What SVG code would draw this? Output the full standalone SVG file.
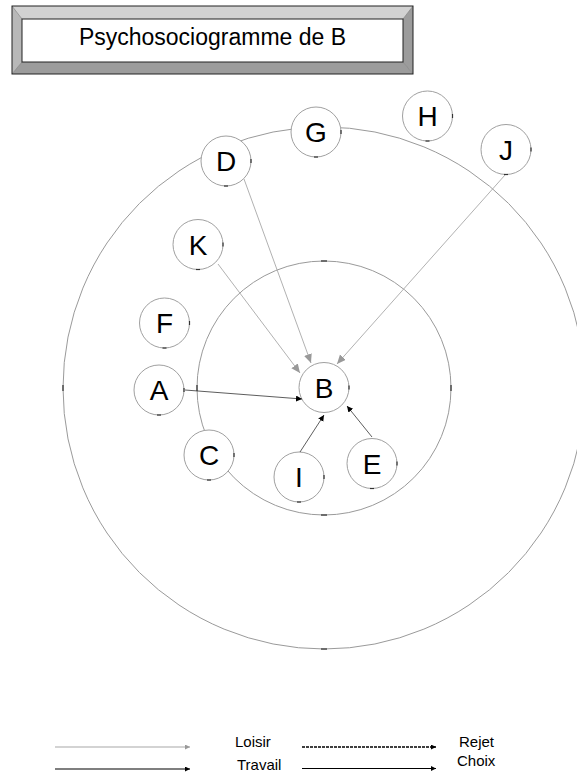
<svg xmlns="http://www.w3.org/2000/svg" width="577" height="772" viewBox="0 0 577 772">
<style>
.ring{fill:none;stroke:#9a9a9a;stroke-width:1}
.node circle{fill:#fff;stroke:#a0a0a0;stroke-width:1}
.node text{font-family:"Liberation Sans",Arial,sans-serif;font-size:28px;fill:#000;text-anchor:middle}
.tick{stroke:#333;stroke-width:1.2}
.rtick{stroke:#555;stroke-width:1.6}
.gray{stroke:#a8a8a8;stroke-width:0.9;fill:none}
.blk{stroke:#333;stroke-width:0.8;fill:none}
.leg{font-family:"Liberation Sans",Arial,sans-serif;font-size:15px;fill:#000}
</style>
<defs>
<marker id="ag" markerUnits="userSpaceOnUse" markerWidth="10" markerHeight="10" refX="9" refY="4" orient="auto"><path d="M0,0 L9,4 L0,8 z" fill="#999"/></marker>
<marker id="ab" markerUnits="userSpaceOnUse" markerWidth="8" markerHeight="8" refX="6" refY="3" orient="auto"><path d="M0,0 L6,3 L0,6 z" fill="#000"/></marker>
<marker id="lg" markerUnits="userSpaceOnUse" markerWidth="8" markerHeight="8" refX="5" refY="2.5" orient="auto"><path d="M0,0 L5,2.5 L0,5 z" fill="#999"/></marker>
<marker id="lb" markerUnits="userSpaceOnUse" markerWidth="8" markerHeight="8" refX="5" refY="2.5" orient="auto"><path d="M0,0 L5,2.5 L0,5 z" fill="#000"/></marker>
</defs>
<rect width="577" height="772" fill="#fff"/>

<g id="title">
<polygon points="12,6 413,6 403,19 22,19" fill="#d2d2d2"/>
<polygon points="12,6 22,19 22,62 12,74" fill="#b8b8b8"/>
<polygon points="413,6 413,74 403,62 403,19" fill="#9c9c9c"/>
<polygon points="12,74 22,62 403,62 413,74" fill="#9c9c9c"/>
<line x1="12" y1="6" x2="22" y2="19" stroke="#777" stroke-width="0.6"/>
<line x1="413" y1="6" x2="403" y2="19" stroke="#777" stroke-width="0.6"/>
<line x1="12" y1="74" x2="22" y2="62" stroke="#777" stroke-width="0.6"/>
<line x1="413" y1="74" x2="403" y2="62" stroke="#777" stroke-width="0.6"/>
<rect x="12" y="6" width="401" height="68" fill="none" stroke="#222" stroke-width="1"/>
<rect x="22" y="19" width="381" height="43" fill="#fff" stroke="#222" stroke-width="1"/>
<text x="212.5" y="45" font-family="Liberation Sans,Arial,sans-serif" font-size="23" text-anchor="middle">Psychosociogramme de B</text>
</g>

<g id="rings">
<circle class="ring" cx="324" cy="388" r="261"/>
<circle class="ring" cx="324" cy="388" r="127"/>
<line class="rtick" x1="321" y1="261" x2="327" y2="261"/>
<line class="rtick" x1="451" y1="385" x2="451" y2="391"/>
<line class="rtick" x1="321" y1="515" x2="327" y2="515"/>
<line class="rtick" x1="197" y1="385" x2="197" y2="391"/>
<line class="rtick" x1="63" y1="385" x2="63" y2="391"/>
<line class="rtick" x1="321" y1="649" x2="327" y2="649"/>
</g>

<g id="node-G" class="node"><circle cx="316" cy="132" r="25"/><text x="316" y="142">G</text><line class="tick" x1="341" y1="130" x2="341" y2="134"/><line class="tick" x1="314" y1="157" x2="318" y2="157"/></g>
<g id="node-D" class="node"><circle cx="226" cy="161" r="25"/><text x="226" y="171">D</text><line class="tick" x1="251" y1="159" x2="251" y2="163"/><line class="tick" x1="224" y1="186" x2="228" y2="186"/></g>
<g id="node-H" class="node"><circle cx="427.5" cy="116" r="25"/><text x="427.5" y="126">H</text><line class="tick" x1="452.5" y1="114" x2="452.5" y2="118"/><line class="tick" x1="425.5" y1="141" x2="429.5" y2="141"/></g>
<g id="node-J" class="node"><circle cx="506" cy="149.5" r="25"/><text x="506" y="159.5">J</text><line class="tick" x1="531" y1="147.5" x2="531" y2="151.5"/><line class="tick" x1="504" y1="174.5" x2="508" y2="174.5"/></g>
<g id="node-K" class="node"><circle cx="198" cy="244.5" r="25"/><text x="198" y="254.5">K</text><line class="tick" x1="223" y1="242.5" x2="223" y2="246.5"/><line class="tick" x1="196" y1="269.5" x2="200" y2="269.5"/></g>
<g id="node-F" class="node"><circle cx="164.5" cy="323" r="25"/><text x="164.5" y="333">F</text><line class="tick" x1="189.5" y1="321" x2="189.5" y2="325"/><line class="tick" x1="162.5" y1="348" x2="166.5" y2="348"/></g>
<g id="node-A" class="node"><circle cx="159" cy="390" r="25"/><text x="159" y="400">A</text><line class="tick" x1="184" y1="388" x2="184" y2="392"/><line class="tick" x1="157" y1="415" x2="161" y2="415"/></g>
<g id="node-B" class="node"><circle cx="324" cy="387.5" r="25"/><text x="324" y="397.5">B</text><line class="tick" x1="349" y1="385.5" x2="349" y2="389.5"/></g>
<g id="node-C" class="node"><circle cx="209" cy="455" r="25"/><text x="209" y="465">C</text><line class="tick" x1="234" y1="453" x2="234" y2="457"/><line class="tick" x1="207" y1="480" x2="211" y2="480"/></g>
<g id="node-I" class="node"><circle cx="299" cy="477" r="25"/><text x="299" y="487">I</text><line class="tick" x1="324" y1="475" x2="324" y2="479"/><line class="tick" x1="297" y1="502" x2="301" y2="502"/></g>
<g id="node-E" class="node"><circle cx="372" cy="463.5" r="25"/><text x="372" y="473.5">E</text><line class="tick" x1="397" y1="461.5" x2="397" y2="465.5"/><line class="tick" x1="370" y1="488.5" x2="374" y2="488.5"/></g>

<g id="connectors">
<line class="gray" x1="244" y1="179" x2="311" y2="363" marker-end="url(#ag)"/>
<line class="gray" x1="218" y1="264" x2="300" y2="373" marker-end="url(#ag)"/>
<line class="gray" x1="505" y1="175" x2="337" y2="364" marker-end="url(#ag)"/>
<line class="blk" x1="185" y1="390" x2="302" y2="399" marker-end="url(#ab)"/>
<line class="blk" x1="300" y1="452" x2="324" y2="415" marker-end="url(#ab)"/>
<line class="blk" x1="372" y1="437" x2="347" y2="406" marker-end="url(#ab)"/>
</g>

<g id="legend">
<line x1="55" y1="747" x2="190" y2="747" stroke="#a8a8a8" stroke-width="1.2" marker-end="url(#lg)"/>
<line x1="55" y1="769" x2="190" y2="769" stroke="#000" stroke-width="1.2" marker-end="url(#lb)"/>
<line x1="302" y1="747" x2="436" y2="747" stroke="#000" stroke-width="1.4" stroke-dasharray="3,1" marker-end="url(#lb)"/>
<line x1="302" y1="768.5" x2="436" y2="768.5" stroke="#000" stroke-width="1.2" marker-end="url(#lb)"/>
<text class="leg" x="235" y="747">Loisir</text>
<text class="leg" x="237" y="770">Travail</text>
<text class="leg" x="459" y="747">Rejet</text>
<text class="leg" x="457" y="766">Choix</text>
</g>
</svg>
